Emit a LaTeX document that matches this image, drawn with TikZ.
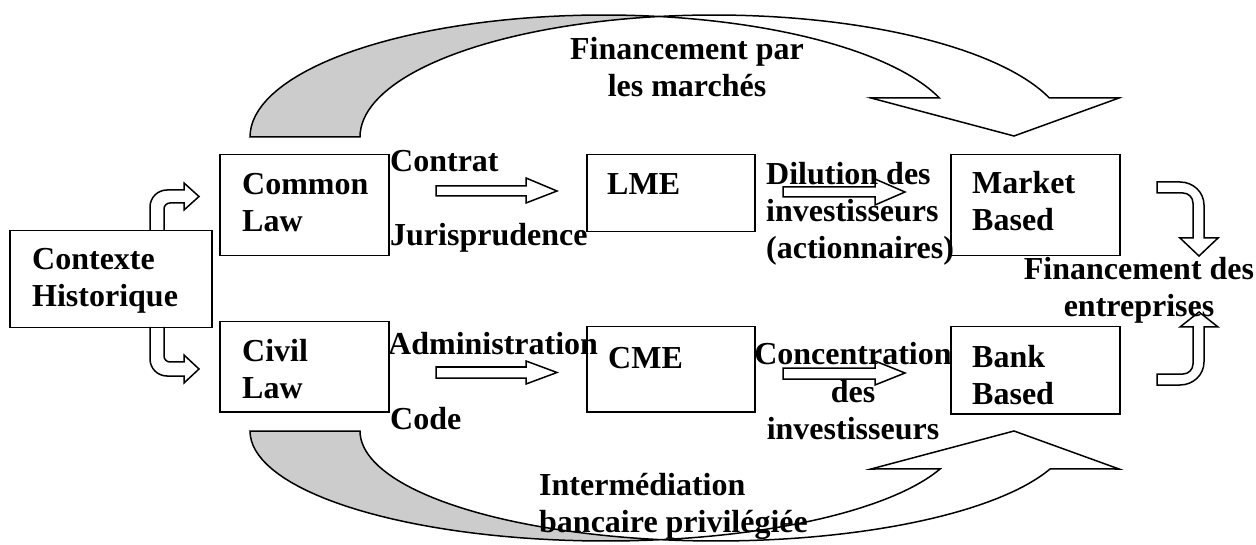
\documentclass[tikz,border=0pt]{standalone}
\usepackage{fontspec}
\setmainfont{Liberation Serif}
\usetikzlibrary{calc}
\definecolor{lobe}{RGB}{204,204,204}
\newcommand{\txtl}[1]{\begin{tabular}[t]{@{}l@{}}#1\end{tabular}}
\newcommand{\txtc}[1]{\begin{tabular}[t]{@{}c@{}}#1\end{tabular}}
\tikzset{
  box/.style={draw, line width=1.5pt, anchor=north west, inner sep=0pt},
  lbl/.style={anchor=base west, inner sep=0pt},
  lblc/.style={anchor=base, inner sep=0pt},
  outl/.style={draw, line width=1.5pt, fill=white},
}
\begin{document}
\begin{tikzpicture}[x=1pt,y=1pt,yscale=-1,xscale=1,font=\fontsize{32}{37}\selectfont\bfseries]
\useasboundingbox (0,0) rectangle (1256,545);

% big curved arrows (two shifted half ellipses)
\draw [outl, fill=lobe] plot[domain=180:278.9, samples=40] ({604+354*cos(\x)},{137+122*sin(\x)}) -- plot[domain=261.1:180, samples=40] ({714+354*cos(\x)},{137+122*sin(\x)}) -- cycle;
\draw [outl] plot[domain=261.1:341.3, samples=40] ({714+354*cos(\x)},{137+122*sin(\x)}) -- (1119,98) -- (1014,136) -- (871,98) -- plot[domain=341.3:278.9, samples=40] ({604+354*cos(\x)},{137+122*sin(\x)}) -- cycle;
\draw [outl, fill=lobe] plot[domain=180:81.1, samples=40] ({606+356*cos(\x)},{431+110*sin(\x)}) -- plot[domain=98.9:180, samples=40] ({716+356*cos(\x)},{431+110*sin(\x)}) -- cycle;
\draw [outl] plot[domain=98.9:20.2, samples=40] ({716+356*cos(\x)},{431+110*sin(\x)}) -- (1119,469) -- (1014,431) -- (871,469) -- plot[domain=20.2:81.1, samples=40] ({606+356*cos(\x)},{431+110*sin(\x)}) -- cycle;

% bent arrows
\draw [outl] (150,230) -- (150,207) .. controls (150,197.6) and (157.6,190) .. (167,190) -- (184,190) -- (184,183) -- (199,196.5) -- (184,210) -- (184,203) -- (170,203) .. controls (166.7,203) and (164,205.7) .. (164,209) -- (164,230);
\draw [outl] (150,327) -- (150,359) .. controls (150,368.4) and (157.6,376) .. (167,376) -- (184,376) -- (184,383) -- (199,369) -- (184,355) -- (184,362) -- (170,362) .. controls (166.7,362) and (164,359.3) .. (164,356) -- (164,327);
\draw [outl] (1157,182) -- (1180,182) .. controls (1193,182) and (1204,192) .. (1204,205) -- (1204,238) -- (1218,238) -- (1199,256) -- (1180,238) -- (1193,238) -- (1193,203) .. controls (1193,197.5) and (1188.5,193) .. (1183,193) -- (1157,193) -- cycle;
\draw [outl] (1157,385) -- (1180,385) .. controls (1193,385) and (1204,375) .. (1204,362) -- (1204,327) -- (1218,327) -- (1199,312) -- (1180,327) -- (1193,327) -- (1193,364) .. controls (1193,369.5) and (1188.5,374) .. (1183,374) -- (1157,374) -- cycle;

% block arrows
\draw [outl] (436,186) -- (526,186) -- (526,178) -- (557,191) -- (526,203) -- (526,196) -- (436,196) -- cycle;
\draw [outl] (436,367) -- (526,367) -- (526,361) -- (557,372.5) -- (526,384) -- (526,378) -- (436,378) -- cycle;
\draw [outl] (783,187) -- (875,187) -- (875,179) -- (905,192) -- (875,205) -- (875,197) -- (783,197) -- cycle;
\draw [outl] (783,368) -- (875,368) -- (875,361) -- (905,373) -- (875,385) -- (875,379) -- (783,379) -- cycle;

% boxes
\node [box, minimum width=202, minimum height=97] (ctx) at (9,230) {};
\node [box, minimum width=169, minimum height=101] (common) at (219,154) {};
\node [box, minimum width=169, minimum height=90] (civil) at (219,321) {};
\node [box, minimum width=168, minimum height=77] (lme) at (586,154) {};
\node [box, minimum width=168, minimum height=85] (cme) at (586,326) {};
\node [box, minimum width=169, minimum height=101] (market) at (950,154) {};
\node [box, minimum width=169, minimum height=87] (bank) at (950,326) {};

\node [lbl] (ctxtxt) at ($(ctx.north west)+(23,40)$) {\txtl{Contexte\\Historique}};
\node [lbl] (commontxt) at ($(common.north west)+(23,41)$) {\txtl{Common\\Law}};
\node [lbl] (civiltxt) at ($(civil.north west)+(23,41)$) {\txtl{Civil\\Law}};
\node [lbl] (lmetxt) at ($(lme.north west)+(21,41)$) {LME};
\node [lbl] (cmetxt) at ($(cme.north west)+(22,42)$) {CME};
\node [lbl] (markettxt) at ($(market.north west)+(22,40)$) {\txtl{Market\\Based}};
\node [lbl] (banktxt) at ($(bank.north west)+(22,41)$) {\txtl{Bank\\Based}};

% labels
\node [lbl] (contrat) at (390,172) {Contrat};
\node [lbl] (juris) at (390,246) {Jurisprudence};
\node [lbl] (admin) at (388,355) {Administration};
\node [lbl] (code) at (390,429) {Code};
\node [lbl] (dilution) at (766,185) {\txtl{Dilution des\\investisseurs\\(actionnaires)}};
\node [lblc] (concentr) at (853,365) {\txtc{Concentration\\des\\investisseurs}};
\node [lblc] (finmarch) at (687,60) {\txtc{Financement par\\les marchés}};
\node [lbl] (interm) at (539,495) {\txtl{Intermédiation\\bancaire privilégiée}};
\node [lblc] (finent) at (1139,280) {\txtc{Financement des\\entreprises}};
\end{tikzpicture}
\end{document}
